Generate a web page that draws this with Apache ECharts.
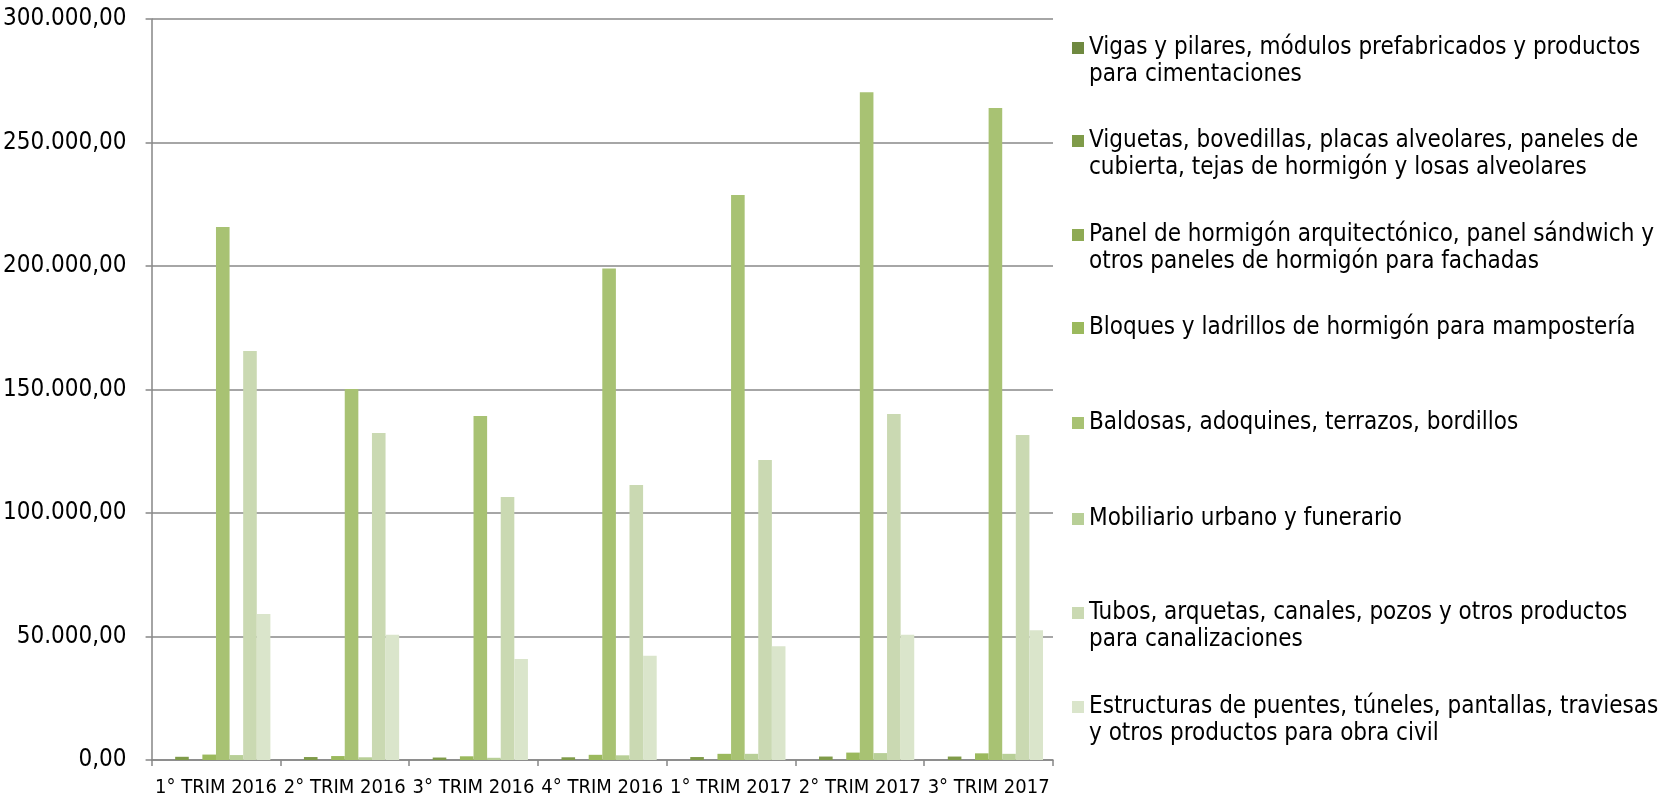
<!DOCTYPE html>
<html>
<head>
<meta charset="utf-8">
<script src="https://cdn.jsdelivr.net/npm/echarts@6/dist/echarts.min.js"></script>
<style>
html,body{margin:0;padding:0;background:#fff;}
#chart{width:1665px;height:799px;}
</style>
</head>
<body>
<div id="chart"></div>
<script>
const categories = ['1° TRIM 2016','2° TRIM 2016','3° TRIM 2016','4° TRIM 2016','1° TRIM 2017','2° TRIM 2017','3° TRIM 2017'];
const seriesNames = [
  'Vigas y pilares, módulos prefabricados y productos para cimentaciones',
  'Viguetas, bovedillas, placas alveolares, paneles de cubierta, tejas de hormigón y losas alveolares',
  'Panel de hormigón arquitectónico, panel sándwich y otros paneles de hormigón para fachadas',
  'Bloques y ladrillos de hormigón para mampostería',
  'Baldosas, adoquines, terrazos, bordillos',
  'Mobiliario urbano y funerario',
  'Tubos, arquetas, canales, pozos y otros productos para canalizaciones',
  'Estructuras de puentes, túneles, pantallas, traviesas y otros productos para obra civil'
];
const legendLabels = [
  'Vigas y pilares, módulos prefabricados y productos\npara cimentaciones',
  'Viguetas, bovedillas, placas alveolares, paneles de\ncubierta, tejas de hormigón y losas alveolares',
  'Panel de hormigón arquitectónico, panel sándwich y\notros paneles de hormigón para fachadas',
  'Bloques y ladrillos de hormigón para mampostería',
  'Baldosas, adoquines, terrazos, bordillos',
  'Mobiliario urbano y funerario',
  'Tubos, arquetas, canales, pozos y otros productos\npara canalizaciones',
  'Estructuras de puentes, túneles, pantallas, traviesas\ny otros productos para obra civil'
];
const vigas       = [0, 0, 0, 0, 0, 0, 0];
const viguetas    = [1300, 1200, 1000, 1100, 1200, 1400, 1400];
const panel       = [0, 0, 0, 0, 0, 0, 0];
const bloques     = [2200, 1600, 1500, 2100, 2500, 3000, 2700];
const baldosas    = [215800, 150200, 139300, 199000, 228700, 270300, 264000];
const mobiliario  = [2000, 1100, 900, 1900, 2500, 2800, 2500];
const tubos       = [165600, 132400, 106500, 111300, 121500, 140100, 131600];
const estructuras = [59100, 50700, 40900, 42200, 46100, 50700, 52500];
const yTicks = [0, 50000, 100000, 150000, 200000, 250000, 300000];

const allData = [vigas, viguetas, panel, bloques, baldosas, mobiliario, tubos, estructuras];
const colors = ['#6f8940','#7f9b49','#8eaa54','#9bb95d','#a8c273','#b8cf97','#cad9b2','#dae5cb'];
const legendCenters = [48, 141, 235, 328, 423, 519, 613, 707];

const FONT = '"DejaVu Sans Condensed", "DejaVu Sans", sans-serif';
const LH = 27;

function fmt(v){
  const s = Math.round(v).toString().replace(/\B(?=(\d{3})+(?!\d))/g, '.');
  return s + ',00';
}

const legends = seriesNames.map((n, i) => {
  const twoLines = legendLabels[i].indexOf('\n') >= 0;
  // a leading empty line keeps the first text line level with the swatch
  const label = twoLines ? '\n' + legendLabels[i] : legendLabels[i];
  return {
    data: [n],
    orient: 'vertical',
    left: 1072,
    top: legendCenters[i] - (twoLines ? LH * 1.5 : LH / 2),
    padding: 0,
    itemWidth: 12,
    itemHeight: 12,
    icon: 'rect',
    selectedMode: false,
    formatter: () => label,
    textStyle: {
      fontFamily: FONT,
      fontSize: 24,
      color: '#000',
      lineHeight: LH
    }
  };
});

const chart = echarts.init(document.getElementById('chart'));
chart.setOption({
  animation: false,
  backgroundColor: '#fff',
  color: colors,
  legend: legends,
  grid: { left: 150, right: 612, top: 19, bottom: 39, containLabel: false },
  xAxis: {
    type: 'category',
    data: categories,
    boundaryGap: true,
    axisLine: { lineStyle: { color: '#868686', width: 1.5 } },
    axisTick: { show: true, length: 6, interval: 0, lineStyle: { color: '#868686', width: 1.5 } },
    axisLabel: { interval: 0, fontFamily: FONT, fontSize: 20, color: '#000', margin: 18 }
  },
  yAxis: {
    type: 'value',
    min: yTicks[0],
    max: yTicks[yTicks.length - 1],
    interval: yTicks[1] - yTicks[0],
    axisLine: { show: true, lineStyle: { color: '#868686', width: 1.5 } },
    axisTick: { show: true, length: 6, lineStyle: { color: '#868686', width: 1.5 } },
    splitLine: { show: true, lineStyle: { color: '#888888', width: 1.5 } },
    axisLabel: { fontFamily: FONT, fontSize: 24, color: '#000', margin: 25, formatter: fmt }
  },
  series: seriesNames.map((n, i) => ({
    name: n,
    type: 'bar',
    data: allData[i],
    barGap: '0%',
    barCategoryGap: '15.5%',
    itemStyle: { color: colors[i] }
  }))
});
</script>
</body>
</html>
